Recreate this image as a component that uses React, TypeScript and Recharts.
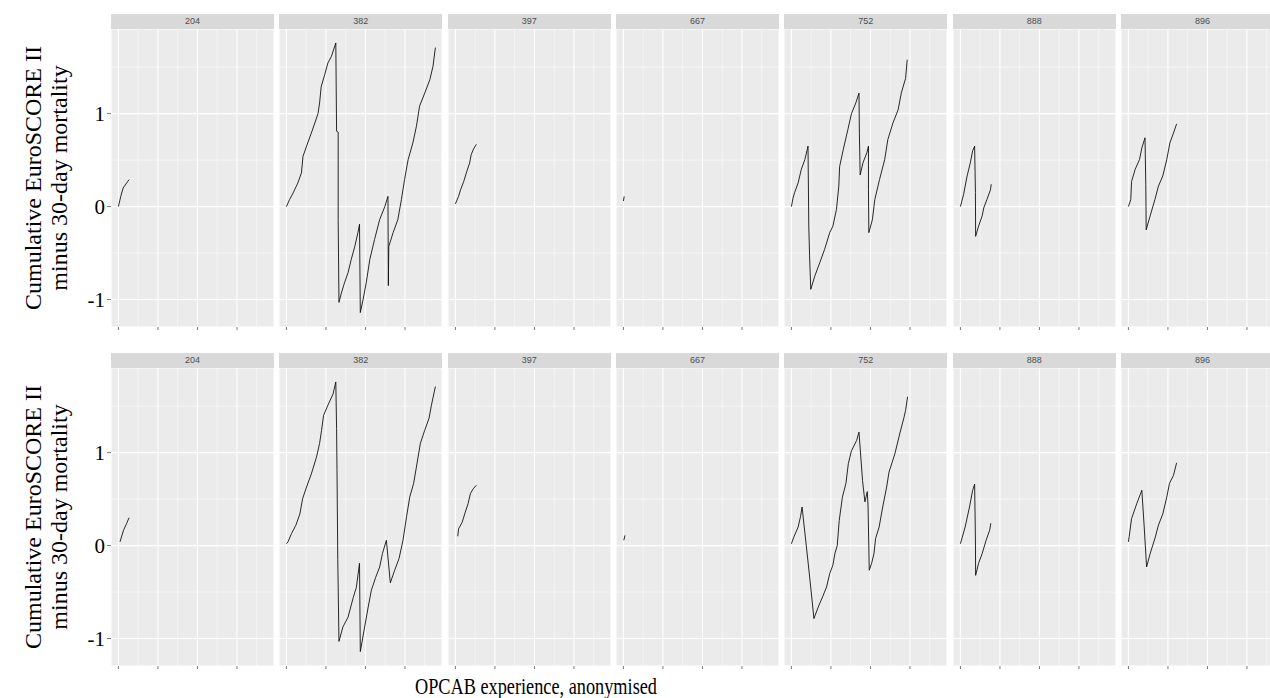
import React from "react";
import { LineChart, Line, XAxis, YAxis, CartesianGrid, ReferenceLine } from "recharts";

type Pt = [number, number];

// facet labels (anonymised surgeon ids)
const surgeons = ["204", "382", "397", "667", "752", "888", "896"];

// upper row: case number vs cumulative EuroSCORE II minus deaths
const top204: Pt[] = [[0, 0], [6, 0.11], [12, 0.2], [21, 0.255], [27, 0.29]];
const top382: Pt[] = [
  [0, 0], [8, 0.075], [17, 0.147], [29, 0.255], [38, 0.362], [42, 0.541], [51, 0.65], [63, 0.79],
  [72, 0.9], [80, 1.0], [84, 1.115], [88, 1.29], [97, 1.42], [105, 1.545], [114, 1.616], [125, 1.76],
  [127, 0.81], [131, 0.8], [131, -0.15], [133, -1.03], [139, -0.93], [147, -0.82], [156, -0.71],
  [164, -0.57], [173, -0.43], [181, -0.28], [185, -0.19], [187, -1.14], [194, -1.0], [202, -0.82],
  [211, -0.57], [223, -0.355], [236, -0.14], [249, 0.0], [257, 0.11], [258, -0.85], [259, -0.43],
  [270, -0.28], [282, -0.14], [291, 0.075], [299, 0.29], [308, 0.505], [320, 0.685], [329, 0.863],
  [337, 1.08], [350, 1.22], [363, 1.365], [371, 1.51], [377, 1.71],
];
const top397: Pt[] = [[0, 0.03], [8, 0.11], [13, 0.18], [21, 0.27], [29, 0.38], [36, 0.47], [40, 0.56], [46, 0.62], [53, 0.67]];
const top667: Pt[] = [[0, 0.06], [2, 0.11]];
const top752: Pt[] = [
  [0, 0], [4, 0.09], [8, 0.15], [17, 0.255], [25, 0.4], [34, 0.505], [42, 0.65], [44, -0.21],
  [46, -0.53], [49, -0.89], [59, -0.75], [72, -0.6], [84, -0.46], [97, -0.28], [105, -0.21],
  [114, -0.03], [120, 0.22], [122, 0.43], [131, 0.61], [143, 0.83], [152, 1.0], [163, 1.115],
  [171, 1.22], [172, 0.79], [174, 0.34], [181, 0.47], [191, 0.58], [195, 0.65], [195, 0.18],
  [196, -0.28], [205, -0.14], [211, 0.075], [223, 0.29], [236, 0.505], [244, 0.72], [257, 0.9],
  [270, 1.04], [278, 1.22], [289, 1.38], [293, 1.58],
];
const top888: Pt[] = [
  [0, 0], [8, 0.13], [17, 0.33], [25, 0.47], [31, 0.6], [36, 0.65], [38, 0.15], [38.5, -0.32],
  [46, -0.21], [55, -0.1], [59, -0.015], [67, 0.075], [76, 0.18], [78, 0.24],
];
const top896: Pt[] = [
  [0, 0], [6, 0.075], [8, 0.27], [17, 0.4], [28, 0.505], [34, 0.63], [42, 0.74], [44, 0.24],
  [45, -0.25], [55, -0.1], [67, 0.075], [76, 0.22], [87, 0.33], [97, 0.505], [105, 0.685],
  [114, 0.79], [122, 0.89],
];

// lower row
const bot204: Pt[] = [[4, 0.04], [13, 0.165], [21, 0.24], [27, 0.3]];
const bot382: Pt[] = [
  [0, 0.02], [4, 0.04], [13, 0.13], [24, 0.22], [34, 0.34], [41, 0.505], [51, 0.63], [63, 0.77],
  [76, 0.95], [84, 1.1], [89, 1.24], [94, 1.4], [105, 1.51], [118, 1.63], [125, 1.76], [127, 1.26],
  [128, 0.82], [130, -0.15], [133, -1.03], [143, -0.875], [156, -0.77], [169, -0.56], [177, -0.45],
  [185, -0.19], [187, -1.14], [198, -0.875], [207, -0.66], [215, -0.48], [226, -0.34], [236, -0.23],
  [243, -0.086], [253, 0.057], [263, -0.4], [274, -0.265], [285, -0.14], [295, 0.057], [304, 0.31],
  [312, 0.52], [322, 0.67], [329, 0.845], [339, 1.1], [350, 1.24], [361, 1.37], [367, 1.51], [377, 1.71],
];
const bot397: Pt[] = [[6, 0.1], [8, 0.18], [17, 0.25], [25, 0.36], [32, 0.45], [38, 0.56], [45, 0.61], [53, 0.65]];
const bot667: Pt[] = [[1, 0.057], [4, 0.11]];
const bot752: Pt[] = [
  [0, 0.02], [6, 0.09], [17, 0.2], [23, 0.31], [27, 0.415], [38, -0.015], [47, -0.37], [57, -0.785],
  [68, -0.66], [79, -0.55], [89, -0.445], [97, -0.3], [105, -0.21], [110, -0.086], [116, 0],
  [121, 0.27], [129, 0.52], [138, 0.67], [144, 0.88], [152, 1.02], [165, 1.13], [171, 1.22],
  [180, 0.7], [186, 0.47], [192, 0.58], [194, 0.415], [197, -0.265], [203, -0.19], [209, -0.086],
  [213, 0.075], [222, 0.2], [231, 0.415], [241, 0.63], [247, 0.79], [262, 0.99], [274, 1.2],
  [285, 1.38], [289, 1.455], [294, 1.6],
];
const bot888: Pt[] = [
  [0, 0.02], [12, 0.2], [23, 0.415], [31, 0.595], [36, 0.66], [38, 0.06], [38.5, -0.32], [46, -0.19],
  [55, -0.086], [65, 0.057], [74, 0.165], [77, 0.24],
];
const bot896: Pt[] = [
  [0, 0.04], [2, 0.1], [8, 0.29], [21, 0.45], [34, 0.595], [40, 0.2], [46, -0.23], [55, -0.086],
  [68, 0.09], [76, 0.22], [87, 0.34], [97, 0.52], [104, 0.67], [114, 0.755], [122, 0.89],
];

const topRow = [top204, top382, top397, top667, top752, top888, top896];
const bottomRow = [bot204, bot382, bot397, bot667, bot752, bot888, bot896];

const xBreaks = [0, 100, 200, 300];
const xMinor = [50, 150, 250, 350];
const yBreaks = [-1, 0, 1];
const yMinor = [-0.5, 0.5, 1.5];

const serif = "'Liberation Serif', 'Times New Roman', serif";

const PANEL_W = 163;
const PANEL_H = 298;
const STEP = 168.33;
const LEFT0 = 111;
const STRIP_H = 15;
const X_AXIS_H = 8;
const Y_AXIS_W = 40;
const rowTops = [14, 352.5];

const noTick = () => <g />;

function Facet({ points, label, left, top, first }: { points: Pt[]; label: string; left: number; top: number; first: boolean }) {
  const data = points.map(([x, y]) => ({ x, y }));
  const extra = first ? Y_AXIS_W : 0;
  return (
    <>
      <div
        style={{
          position: "absolute",
          left,
          top,
          width: PANEL_W,
          height: STRIP_H,
          background: "#d9d9d9",
          color: "#4d4d4d",
          fontFamily: "'Liberation Sans', Arial, sans-serif",
          fontSize: 9,
          lineHeight: `${STRIP_H}px`,
          textAlign: "center",
        }}
      >
        {label}
      </div>
      <div style={{ position: "absolute", left: left - extra, top: top + STRIP_H }}>
        <LineChart
          width={PANEL_W + extra}
          height={PANEL_H + X_AXIS_H}
          data={data}
          margin={{ top: 0, right: 0, bottom: 0, left: 0 }}
        >
          <CartesianGrid fill="#ebebeb" fillOpacity={1} stroke="#ffffff" strokeWidth={1.1} />
          <XAxis
            dataKey="x"
            type="number"
            domain={[-18.75, 393.75]}
            ticks={xBreaks}
            interval={0}
            height={X_AXIS_H}
            axisLine={false}
            tickSize={3}
            tickLine={{ stroke: "#555", strokeWidth: 0.8 }}
            tick={noTick}
          />
          <YAxis
            type="number"
            domain={[-1.295, 1.91]}
            ticks={yBreaks}
            interval={0}
            hide={!first}
            width={Y_AXIS_W}
            axisLine={false}
            tickSize={4}
            tickMargin={2}
            tickLine={{ stroke: "#555", strokeWidth: 0.8 }}
            tick={{ fill: "#000", fontSize: 21, fontFamily: serif }}
            tickFormatter={(v: number) => String(v)}
          />
          {xMinor.map((v) => (
            <ReferenceLine key={`vx${v}`} x={v} stroke="#ffffff" strokeWidth={0.5} />
          ))}
          {yMinor.map((v) => (
            <ReferenceLine key={`hy${v}`} y={v} stroke="#ffffff" strokeWidth={0.5} />
          ))}
          <Line
            dataKey="y"
            type="linear"
            stroke="#111"
            strokeWidth={0.9}
            dot={false}
            activeDot={false}
            isAnimationActive={false}
          />
        </LineChart>
      </div>
    </>
  );
}

function YTitle({ centerY }: { centerY: number }) {
  return (
    <svg style={{ position: "absolute", left: 0, top: centerY - 160 }} width={90} height={320}>
      <text x={41} y={160} transform="rotate(-90 41 160)" textAnchor="middle" fontFamily={serif} fontSize={24} fill="#000">
        Cumulative EuroSCORE II
      </text>
      <text x={67} y={160} transform="rotate(-90 67 160)" textAnchor="middle" fontFamily={serif} fontSize={24} fill="#000">
        minus 30-day mortality
      </text>
    </svg>
  );
}

export default function App() {
  const rows = [topRow, bottomRow];
  return (
    <div
      style={{
        position: "absolute",
        left: 0,
        top: 0,
        width: 1270,
        height: 698,
        overflow: "hidden",
        background: "#fff",
      }}
    >
      {rows.map((row, r) =>
        row.map((pts, i) => (
          <Facet
            key={`${r}-${i}`}
            points={pts}
            label={surgeons[i]}
            left={LEFT0 + i * STEP}
            top={rowTops[r]}
            first={i === 0}
          />
        ))
      )}
      <YTitle centerY={rowTops[0] + STRIP_H + PANEL_H / 2} />
      <YTitle centerY={rowTops[1] + STRIP_H + PANEL_H / 2} />
      <svg style={{ position: "absolute", left: 0, top: 668 }} width={1270} height={30}>
        <text x={536} y={26} textAnchor="middle" fontFamily={serif} fontSize={24} fill="#000" textLength={242} lengthAdjust="spacingAndGlyphs">
          OPCAB experience, anonymised
        </text>
      </svg>
    </div>
  );
}
